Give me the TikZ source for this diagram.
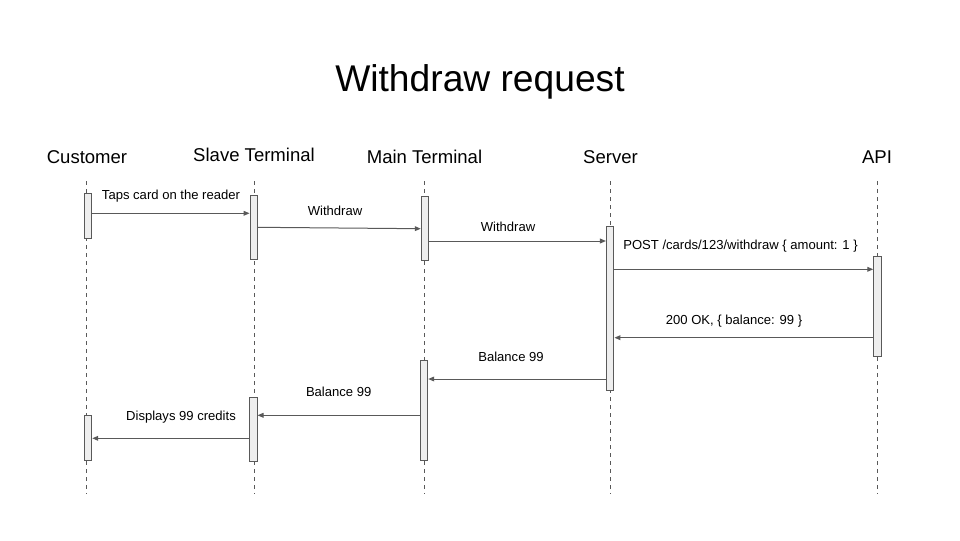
\documentclass[tikz,border=0pt]{standalone}
\usepackage{fontspec}
\setmainfont{Liberation Sans}
\usetikzlibrary{arrows.meta}
\definecolor{ln}{HTML}{595959}
\definecolor{actfill}{HTML}{EEEEEE}
\newcommand{\actbox}[4]{\node[act, minimum height={(#4-#3)*0.75pt}] (#1) at (#2,{(#3+#4)/2}) {};}
\begin{document}
\begin{tikzpicture}[x=0.75pt,y=-0.75pt,
  titletext/.style={font=\fontsize{27.9}{32}\selectfont, anchor=base, inner sep=0pt},
  party/.style={font=\fontsize{13.9}{16}\selectfont, anchor=base, inner sep=0pt},
  msglabel/.style={font=\fontsize{9.8}{12}\selectfont, anchor=base, inner sep=0pt},
  lifeline/.style={draw=ln, line width=0.75pt, dash pattern=on 3pt off 3pt},
  act/.style={draw=ln, fill=actfill, line width=0.75pt, minimum width=5.6pt, inner sep=0pt},
  msg/.style={draw=ln, line width=0.75pt, -{Triangle[length=4.5pt,width=3.6pt]}}]

\useasboundingbox (0,0) rectangle (960,540);

% title
\node[titletext] (title) at (480,91.7) {Withdraw request};

% participants
\node[party] (pc) at (87,163.3) {Customer};
\node[party] (ps) at (254,161.5) {Slave Terminal};
\node[party] (pm) at (424.5,163.3) {Main Terminal};
\node[party] (pv) at (610.5,163.3) {Server};
\node[party] (pa) at (877,163.3) {API};

% lifelines
\coordinate (lc1) at (86.5,181);  \coordinate (lc2) at (86.5,494);
\coordinate (ls1) at (254,181);   \coordinate (ls2) at (254,494);
\coordinate (lm1) at (424.5,181); \coordinate (lm2) at (424.5,494);
\coordinate (lv1) at (610.5,181); \coordinate (lv2) at (610.5,494);
\coordinate (la1) at (877.5,181); \coordinate (la2) at (877.5,494);
\draw[lifeline] (lc1) -- (lc2);
\draw[lifeline] (ls1) -- (ls2);
\draw[lifeline] (lm1) -- (lm2);
\draw[lifeline] (lv1) -- (lv2);
\draw[lifeline] (la1) -- (la2);

% activation boxes
\actbox{c1}{88}{193.3}{238.3}
\actbox{s1}{253.8}{195}{259.3}
\actbox{m1}{425}{196}{260.3}
\actbox{v1}{610.2}{226}{390}
\actbox{a1}{877.5}{256}{356.7}
\actbox{m2}{424}{360.3}{460.3}
\actbox{s2}{253.3}{397.3}{461.3}
\actbox{c2}{88}{415.3}{460.3}

% message heights
\coordinate (y1) at (0,213.3);
\coordinate (y2a) at (0,227.3);
\coordinate (y2b) at (0,228.7);
\coordinate (y3) at (0,241);
\coordinate (y4) at (0,269.3);
\coordinate (y5) at (0,337.7);
\coordinate (y6) at (0,379);
\coordinate (y7) at (0,415.3);
\coordinate (y8) at (0,438.3);

% messages
\draw[msg] (c1.east |- y1) -- (s1.west |- y1);
\draw[msg] (s1.east |- y2a) -- (m1.west |- y2b);
\draw[msg] (m1.east |- y3) -- (v1.west |- y3);
\draw[msg] (v1.east |- y4) -- (a1.west |- y4);
\draw[msg] (a1.west |- y5) -- (v1.east |- y5);
\draw[msg] (v1.west |- y6) -- (m2.east |- y6);
\draw[msg] (m2.west |- y7) -- (s2.east |- y7);
\draw[msg] (s2.west |- y8) -- (c2.east |- y8);

% message labels
\node[msglabel] (t1) at (171,199.6) {Taps card on the reader};
\node[msglabel] (t2) at (335,215.6) {Withdraw};
\node[msglabel] (t3) at (508,231.6) {Withdraw};
\node[msglabel] (t4) at (740.5,249.6) {POST /cards/123/withdraw \{ amount: 1 \}};
\node[msglabel] (t5) at (734,324.6) {200 OK, \{ balance: 99 \}};
\node[msglabel] (t6) at (511,361.6) {Balance 99};
\node[msglabel] (t7) at (338.7,396.3) {Balance 99};
\node[msglabel] (t8) at (181,420.6) {Displays 99 credits};
\end{tikzpicture}
\end{document}
